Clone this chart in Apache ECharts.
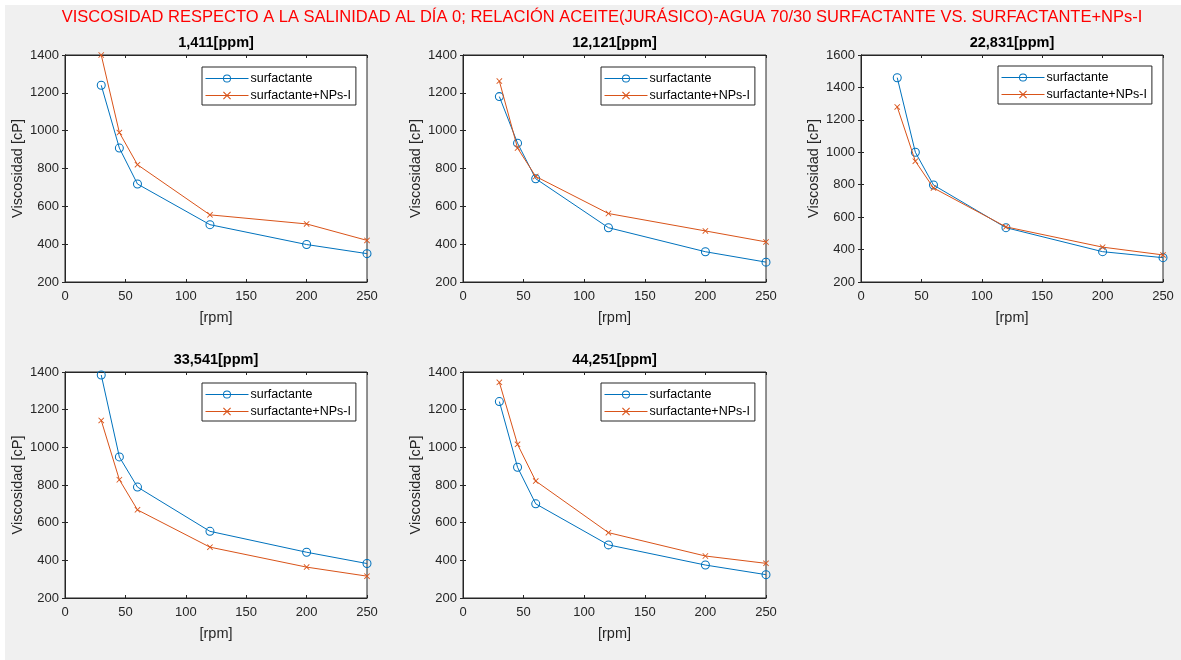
<!DOCTYPE html>
<html>
<head>
<meta charset="utf-8">
<script src="https://cdn.jsdelivr.net/npm/echarts@6/dist/echarts.min.js"></script>
<style>
html,body{margin:0;padding:0;background:#fff;}
#chart{position:absolute;left:0;top:0;width:1181px;height:660px;}
</style>
</head>
<body>
<div id="chart"></div>
<script>
// ---- data ----
const mainTitle = 'VISCOSIDAD RESPECTO A LA SALINIDAD AL DÍA 0; RELACIÓN ACEITE(JURÁSICO)-AGUA 70/30 SURFACTANTE VS. SURFACTANTE+NPs-I';
const seriesNames = ['surfactante', 'surfactante+NPs-I'];
const rpm = [30, 45, 60, 120, 200, 250];
const panelTitles = ['1,411[ppm]', '12,121[ppm]', '22,831[ppm]', '33,541[ppm]', '44,251[ppm]'];
const xTicks = [0, 50, 100, 150, 200, 250];
const yMax = [1400, 1400, 1600, 1400, 1400];
const yMin = [200, 200, 200, 200, 200];

const surf_1411   = [1240, 908, 718, 503, 398, 350];
const nps_1411    = [1400, 990, 820, 555, 507, 420];
const surf_12121  = [1180, 934, 746, 487, 360, 305];
const nps_12121   = [1262, 908, 758, 562, 470, 412];
const surf_22831  = [1460, 1000, 798, 535, 387, 350];
const nps_22831   = [1280, 945, 780, 540, 415, 367];
const surf_33541  = [1384, 949, 789, 554, 443, 383];
const nps_33541   = [1143, 828, 668, 470, 364, 316];
const surf_44251  = [1243, 894, 700, 482, 375, 324];
const nps_44251   = [1345, 1016, 821, 547, 423, 384];

const surfData = [surf_1411, surf_12121, surf_22831, surf_33541, surf_44251];
const npsData  = [nps_1411, nps_12121, nps_22831, nps_33541, nps_44251];

// ---- layout ----
const grids = [
  {left: 65,  top: 55,  width: 302, height: 227},
  {left: 463, top: 55,  width: 303, height: 227},
  {left: 861, top: 55,  width: 302, height: 227},
  {left: 65,  top: 372, width: 302, height: 226},
  {left: 463, top: 372, width: 303, height: 226}
];
const legendPos = [
  {left: 202, top: 67}, {left: 601, top: 67}, {left: 998, top: 66},
  {left: 202, top: 383}, {left: 601, top: 383}
];

const BLUE = '#0072BD', ORANGE = '#D95319', AX = '#262626';
const FONT = '"Liberation Sans", Arial, Helvetica, sans-serif';
const XSYM = 'path://M0,1 L1,0 L5,4 L9,0 L10,1 L6,5 L10,9 L9,10 L5,6 L1,10 L0,9 L4,5 Z';
const OSYM = 'path://M5,0 A5,5 0 1,1 4.999,0 Z M5,1.15 A3.85,3.85 0 1,0 5.001,1.15 Z';

const option = {
  animation: false,
  textStyle: {fontFamily: FONT},
  graphic: [{type: 'rect', shape: {x: 5, y: 5, width: 1176, height: 655}, style: {fill: '#f0f0f0'}, z: -100, silent: true}],
  title: [], grid: [], xAxis: [], yAxis: [], series: [], legend: []
};

option.title.push({
  text: mainTitle, left: 602, top: 9, textAlign: 'center', padding: 0,
  textStyle: {fontFamily: '"Liberation Sans Narrow", "Arial Narrow", ' + FONT, fontSize: 16.5, fontWeight: 'normal', color: '#ff0000'}
});

const plain = v => String(v);

grids.forEach((g, i) => {
  option.grid.push({left: g.left, top: g.top, width: g.width, height: g.height, show: true,
    backgroundColor: '#fff', borderColor: AX, borderWidth: 1, containLabel: false});
  option.title.push({
    text: panelTitles[i], left: g.left + g.width / 2, top: g.top - 20, textAlign: 'center', padding: 0,
    textStyle: {fontFamily: FONT, fontSize: 14.5, fontWeight: 'bold', color: '#000'}
  });
  const xi = option.xAxis.length, yi = option.yAxis.length;
  option.xAxis.push({
    type: 'value', gridIndex: i, min: xTicks[0], max: xTicks[xTicks.length - 1], interval: 50,
    name: '[rpm]', nameLocation: 'middle', nameGap: 28,
    nameTextStyle: {fontFamily: FONT, fontSize: 14.5, color: AX},
    axisLine: {show: true, lineStyle: {color: AX, width: 1}},
    axisTick: {show: true, inside: true, length: 3, lineStyle: {color: AX}},
    axisLabel: {fontFamily: FONT, fontSize: 13, color: AX, margin: 8, formatter: plain},
    splitLine: {show: false}
  });
  option.xAxis.push({
    type: 'value', gridIndex: i, position: 'top', min: xTicks[0], max: xTicks[xTicks.length - 1], interval: 50,
    axisLine: {show: true, lineStyle: {color: AX, width: 1}},
    axisTick: {show: true, inside: true, length: 3, lineStyle: {color: AX}},
    axisLabel: {show: false}, splitLine: {show: false}
  });
  option.yAxis.push({
    type: 'value', gridIndex: i, min: yMin[i], max: yMax[i], interval: 200,
    name: 'Viscosidad [cP]', nameLocation: 'middle', nameGap: 40, nameRotate: 90,
    nameTextStyle: {fontFamily: FONT, fontSize: 14.5, color: AX},
    axisLine: {show: true, lineStyle: {color: AX, width: 1}},
    axisTick: {show: true, inside: true, length: 3, lineStyle: {color: AX}},
    axisLabel: {fontFamily: FONT, fontSize: 13, color: AX, margin: 6, formatter: plain},
    splitLine: {show: false}
  });
  option.yAxis.push({
    type: 'value', gridIndex: i, position: 'right', min: yMin[i], max: yMax[i], interval: 200,
    axisLine: {show: true, lineStyle: {color: AX, width: 1}},
    axisTick: {show: true, inside: true, length: 3, lineStyle: {color: AX}},
    axisLabel: {show: false}, splitLine: {show: false}
  });
  option.series.push({
    name: seriesNames[0], type: 'line', xAxisIndex: xi, yAxisIndex: yi,
    data: rpm.map((x, k) => [x, surfData[i][k]]),
    symbol: OSYM, symbolSize: 9,
    lineStyle: {color: BLUE, width: 1},
    itemStyle: {color: BLUE},
    emphasis: {disabled: true}, z: 3
  });
  option.series.push({
    name: seriesNames[1], type: 'line', xAxisIndex: xi, yAxisIndex: yi,
    data: rpm.map((x, k) => [x, npsData[i][k]]),
    symbol: XSYM, symbolSize: 6,
    lineStyle: {color: ORANGE, width: 1},
    itemStyle: {color: ORANGE},
    emphasis: {disabled: true}, z: 4
  });
  option.legend.push({
    left: legendPos[i].left, top: legendPos[i].top, orient: 'vertical',
    data: seriesNames, itemWidth: 43, itemHeight: 10, itemGap: 4, padding: [5, 5, 3, 3],
    backgroundColor: '#fff', borderColor: AX, borderWidth: 1, borderRadius: 0,
    lineStyle: {width: 1},
    textStyle: {fontFamily: FONT, fontSize: 12.5, color: '#000', padding: [0, 0, 0, -3]},
    selectedMode: false
  });
});

const chart = echarts.init(document.getElementById('chart'), null, {renderer: 'canvas'});
chart.setOption(option);
</script>
</body>
</html>
